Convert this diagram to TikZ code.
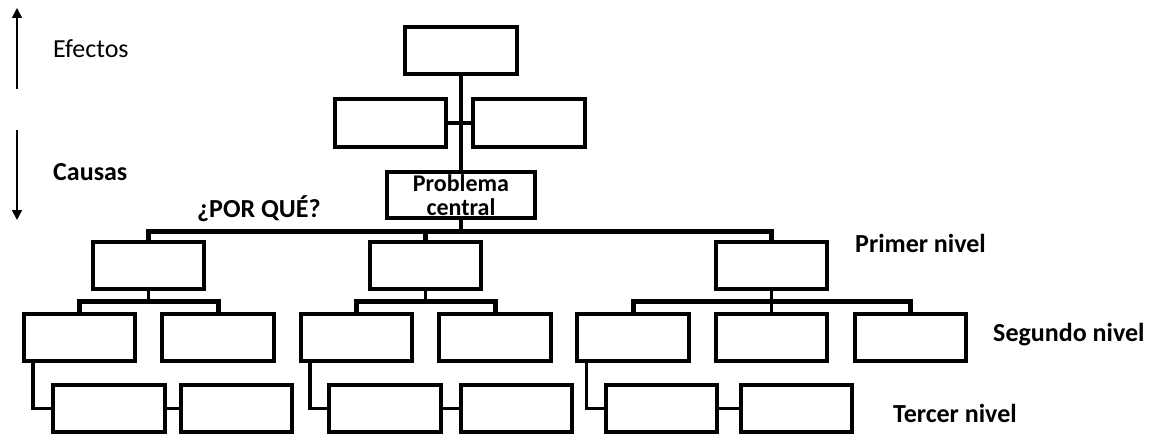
\documentclass[tikz,border=0pt]{standalone}
\usepackage{fontspec}
\setmainfont{Carlito}
\usetikzlibrary{calc,arrows.meta}
\begin{document}
\begin{tikzpicture}[x=1pt,y=-1pt,
  box/.style={draw,line width=3.6pt,minimum width=111.5pt,minimum height=47.5pt,inner sep=0pt},
  link/.style={line width=3.4pt},
  bar/.style={line width=5pt},
  dir/.style={line width=1.6pt,-{Triangle[width=10pt,length=10pt]}},
  lbl/.style={font=\fontsize{26}{30}\selectfont\bfseries,anchor=west,inner sep=0pt},
  plain/.style={font=\fontsize{26}{30}\selectfont,anchor=west,inner sep=0pt}]
\useasboundingbox (0,0) rectangle (1153,436);

% effects
\node[box] (e1)  at (461,50.5) {};
\node[box] (e2l) at (390.5,123) {};
\node[box] (e2r) at (529,123) {};
% central problem
\node[box,minimum width=148.5pt,minimum height=46.5pt,align=center,
      font=\fontsize{24}{24}\selectfont\bfseries] (p) at (461,195) {Problema\\central};

% first level
\node[box] (l1a) at (148.5,265.5) {};
\node[box] (l1b) at (425.5,265.5) {};
\node[box] (l1c) at (771.5,265.5) {};
% second level
\node[box] (l2a) at (79.5,337.5) {};
\node[box] (l2b) at (218,337.5) {};
\node[box] (l2c) at (356.5,337.5) {};
\node[box] (l2d) at (495,337.5) {};
\node[box] (l2e) at (633,337.5) {};
\node[box] (l2f) at (771.5,337.5) {};
\node[box] (l2g) at (910.5,337.5) {};
% third level
\node[box] (l3a) at (109,408.5) {};
\node[box] (l3b) at (236.5,408.5) {};
\node[box] (l3c) at (385,408.5) {};
\node[box] (l3d) at (516.5,408.5) {};
\node[box] (l3e) at (661.5,408.5) {};
\node[box] (l3f) at (796.5,408.5) {};

% trunk between effects and problem
\coordinate (j) at (e1.south |- e2l.east);
\draw[line width=4.6pt] (e1.south) -- (j);
\draw[link] (j) -- (p.north);
\draw[link] (e2l.east) -- (e2r.west);

% main bar of causes
\coordinate (mb) at (461,231);
\draw[link] (p.south) -- (mb);
\draw[bar] (l1a.north) |- (mb) -| (l1c.north);
\draw[bar] (l1b.north) -- (l1b.north |- mb);

% second-level bars
\coordinate (ba) at (148.5,301);
\coordinate (bb) at (425.5,301);
\coordinate (bc) at (771.5,301);
\draw[link] (l1a.south) -- (ba);
\draw[bar] (l2a.north) |- (ba) -| (l2b.north);
\draw[link] (l1b.south) -- (bb);
\draw[bar] (l2c.north) |- (bb) -| (l2d.north);
\draw[bar] (l2e.north) |- (bc) -| (l2g.north);
\draw[link] (l1c.south) -- (l2f.north);

% third-level elbows
\draw[link] ($(l2a.south west)+(11,0)$) |- (l3a.west);
\draw[link] (l3a.east) -- (l3b.west);
\draw[link] ($(l2c.south west)+(11,0)$) |- (l3c.west);
\draw[link] (l3c.east) -- (l3d.west);
\draw[link] ($(l2e.south west)+(11,0)$) |- (l3e.west);
\draw[link] (l3e.east) -- (l3f.west);

% direction arrows
\coordinate (u0) at (17,89);
\coordinate (u1) at (17,8);
\coordinate (d0) at (17,130);
\coordinate (d1) at (17,220);
\draw[dir] (u0) -- (u1);
\draw[dir] (d0) -- (d1);

% labels
\node[plain] (ef) at (53,49) {Efectos};
\node[lbl] (ca) at (53,172) {Causas};
\node[lbl] (pq) at (197,209) {¿POR QUÉ?};
\node[lbl] (n1) at (855,243) {Primer nivel};
\node[lbl] (n2) at (993,335) {Segundo nivel};
\node[lbl] (n3) at (893,413) {Tercer nivel};
\end{tikzpicture}
\end{document}
